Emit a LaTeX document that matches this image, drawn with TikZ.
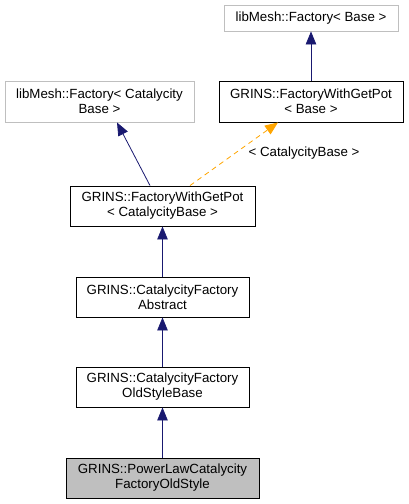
\documentclass[tikz,border=0pt]{standalone}
\usepackage{fontspec}
\setmainfont{Liberation Sans}
\usetikzlibrary{arrows.meta,calc}
\definecolor{edgeblue}{HTML}{191970}
\definecolor{edgeorange}{HTML}{FFA500}
\definecolor{graybox}{HTML}{BFBFBF}
\tikzset{
  cls/.style={draw=black, line width=0.9pt, align=center, inner sep=0pt, font=\fontsize{13.3pt}{15pt}\selectfont},
  ext/.style={cls, draw=graybox},
  inh/.style={draw=edgeblue, line width=0.8pt, -{Triangle[length=13pt,width=10.5pt]}},
  tmpl/.style={draw=edgeorange, line width=0.8pt, dashed, dash pattern=on 5pt off 4pt, -{Triangle[length=13pt,width=10.5pt,fill=edgeorange]}},
  lbl/.style={inner sep=0pt, font=\fontsize{13.3pt}{15pt}\selectfont},
}
\begin{document}
\begin{tikzpicture}[x=1pt,y=-1pt]
\useasboundingbox (0,0) rectangle (408,504);
\node[ext, minimum width=174pt, minimum height=26pt] (A) at (311,18) {libMesh::Factory< Base >};
\node[cls, minimum width=184pt, minimum height=41pt] (B) at (311,101.5) {GRINS::FactoryWithGetPot\\< Base >};
\node[ext, minimum width=189pt, minimum height=41pt] (C) at (99.5,101.5) {libMesh::Factory< Catalycity\\Base >};
\node[cls, minimum width=185pt, minimum height=40pt] (D) at (162.5,206) {GRINS::FactoryWithGetPot\\< CatalycityBase >};
\node[cls, minimum width=173pt, minimum height=40pt] (E) at (162.5,297) {GRINS::CatalycityFactory\\Abstract};
\node[cls, minimum width=173pt, minimum height=40pt] (F) at (162.5,387) {GRINS::CatalycityFactory\\OldStyleBase};
\node[cls, fill=graybox, minimum width=193pt, minimum height=40pt] (G) at (162.5,478) {GRINS::PowerLawCatalycity\\FactoryOldStyle};
\node[lbl] (L) at (304,153) {< CatalycityBase >};
\draw[inh] (B.north) -- (A.south);
\draw[inh] ($(D.north)+(-12.5,0)$) -- ($(C.south)+(17.5,0)$);
\draw[tmpl] ($(D.north)+(27.5,0)$) -- ($(B.south)+(-33,0)$);
\draw[inh] (E.north) -- (D.south);
\draw[inh] (F.north) -- (E.south);
\draw[inh] (G.north) -- (F.south);
\end{tikzpicture}
\end{document}
